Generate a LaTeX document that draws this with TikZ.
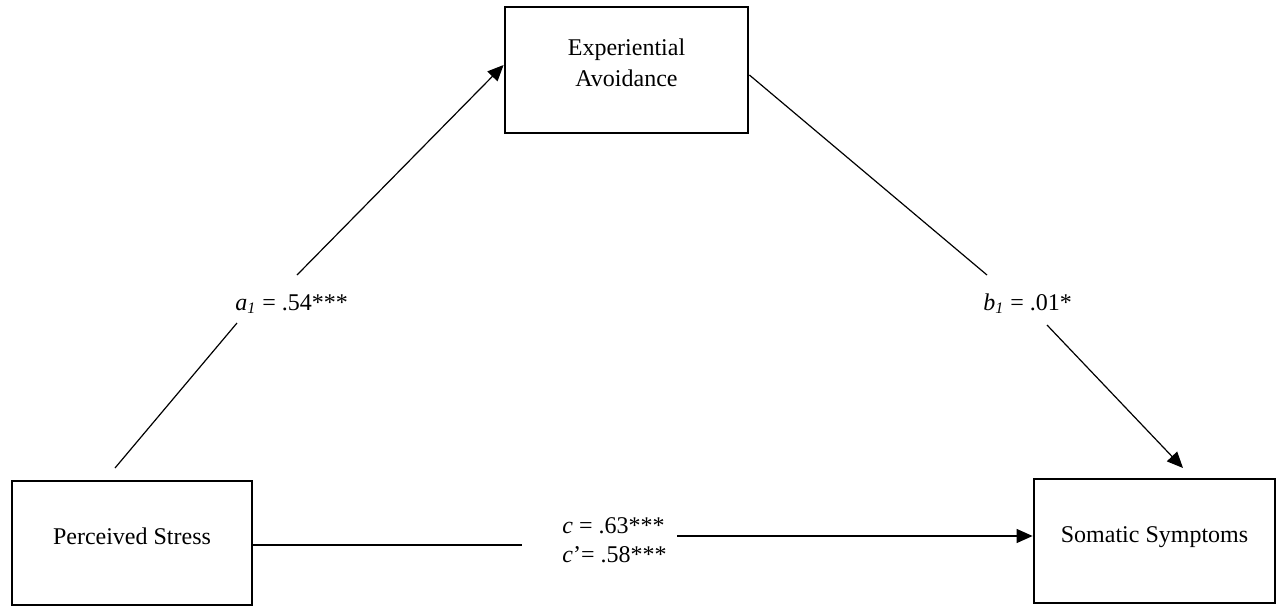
\documentclass[tikz,border=0pt]{standalone}
\usepackage{fontspec}
\setmainfont{Liberation Serif}
\usetikzlibrary{arrows.meta}
\begin{document}
\begin{tikzpicture}[x=0.5pt,y=-0.5pt,
  box/.style={draw,line width=1.4pt,inner sep=0pt},
  txt/.style={font=\fontsize{12pt}{14.5pt}\selectfont,inner sep=0pt,text height=8pt,text depth=0pt},
  conn/.style={line width=0.6pt},
  arr/.style={conn,-{Triangle[length=8pt,width=7pt]}}]
\useasboundingbox (0,0) rectangle (1282,606);
% boxes
\node[box,minimum width=121.5pt,minimum height=63pt,
  label={[txt,align=center,font=\fontsize{12pt}{15.5pt}\selectfont,text height=23.5pt,text depth=0pt,yshift=3.5pt]center:Experiential\\Avoidance}] (ea) at (626.5,70) {};
\node[box,minimum width=120pt,minimum height=62pt,
  label={[txt,yshift=3.5pt]center:Perceived Stress}] (ps) at (132,543) {};
\node[box,minimum width=120.5pt,minimum height=62pt,
  label={[txt,yshift=3.5pt]center:Somatic Symptoms}] (ss) at (1154.5,541) {};
% path a
\coordinate (a1s) at (115,468);
\coordinate (a1m) at (237,323);
\coordinate (a1n) at (297,275);
\draw[conn] (a1s) -- (a1m);
\draw[arr] (a1n) -- ([yshift=2.5pt]ea.west);
\node[txt,anchor=west] (la) at (235,302) {\textit{a\textsubscript{1}} = .54***};
% path b
\coordinate (b1m) at (987,275);
\coordinate (b1n) at (1047,325);
\coordinate (b1t) at (1183,468);
\draw[conn] ([yshift=-2.5pt]ea.east) -- (b1m);
\draw[arr] (b1n) -- (b1t);
\node[txt,anchor=west] (lb) at (983,302) {\textit{b\textsubscript{1}} = .01*};
% path c
\coordinate (cl) at (522,545);
\coordinate (cr) at (677,536);
\draw[conn] ([yshift=-1pt]ps.east) -- (cl);
\draw[arr] (cr) -- ([yshift=2.5pt]ss.west);
\node[txt,anchor=west,align=left,text height=22.5pt,text depth=0pt] (lc) at (562,539.5) {\textit{c} = .63***\\\textit{c}’= .58***};
\end{tikzpicture}
\end{document}
